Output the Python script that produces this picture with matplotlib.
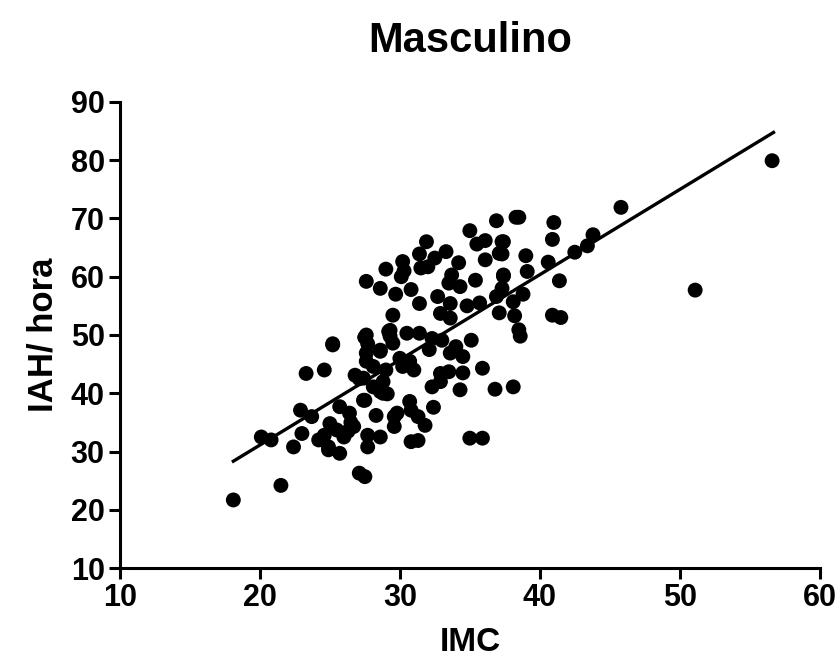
import matplotlib
matplotlib.use("Agg")
import matplotlib.pyplot as plt

plt.rcParams['font.family'] = ['Liberation Sans', 'DejaVu Sans']

title = "Masculino"
x_label = "IMC"
y_label = "IAH/ hora"
x_ticks = [10, 20, 30, 40, 50, 60]
y_ticks = [10, 20, 30, 40, 50, 60, 70, 80, 90]

imc = [
    18.1, 21.5, 20.1, 20.8, 22.4, 23.0, 22.9, 23.7, 23.3, 24.6, 25.2,
    24.2, 24.9, 25.0, 25.7, 26.4, 24.6, 25.5, 26.0, 24.9, 25.7, 26.7,
    26.8, 27.5, 28.8, 28.1, 27.7, 27.1, 27.5, 29.8, 27.6, 28.6, 27.6,
    28.6, 29.7, 30.8, 31.4, 30.1, 29.0, 30.2, 31.5, 32.0, 31.9, 33.3,
    32.5, 31.4, 34.2, 36.1, 37.1, 37.4, 35.0, 36.9, 38.3, 35.5, 36.1,
    37.3, 33.7, 33.5, 34.3, 35.4, 32.7, 33.6, 34.8, 35.7, 36.9, 29.5,
    32.9, 33.6, 27.6, 29.2, 30.5, 31.4, 32.3, 33.0, 35.1, 29.5, 34.0,
    34.5, 33.6, 27.6, 28.6, 28.1, 29.0, 30.2, 31.0, 35.9, 32.9, 33.5,
    34.5, 27.4, 32.3, 32.9, 34.3, 36.8, 38.1, 28.6, 27.4, 30.7, 30.8,
    32.4, 29.6, 29.6, 31.3, 31.8, 27.7, 28.6, 30.8, 31.3, 35.0, 35.9,
    27.7, 27.1, 27.5, 25.2, 27.5, 30.5, 30.7, 28.8, 29.3, 29.1, 28.3,
    38.5, 39.0, 39.1, 37.4, 37.3, 37.4, 37.3, 38.8, 38.1, 38.2, 38.5,
    38.6, 37.1, 41.0, 40.9, 40.6, 41.4, 40.9, 41.5, 42.5, 43.4, 43.8,
    45.8, 51.1, 56.6, 30.3, 29.3, 32.1, 26.3, 26.5, 30.0,
]
iah = [
    21.7, 24.2, 32.5, 32.0, 30.8, 33.1, 37.1, 36.0, 43.4, 44.0, 48.3,
    32.0, 30.8, 34.8, 37.7, 36.6, 32.8, 33.7, 32.5, 30.3, 29.7, 34.3,
    43.1, 38.8, 40.0, 41.1, 30.8, 26.3, 25.7, 36.6, 59.2, 58.0, 45.5,
    47.2, 57.0, 57.8, 55.4, 60.0, 61.3, 62.6, 61.5, 61.7, 66.0, 64.3,
    63.2, 63.9, 62.4, 62.9, 64.0, 60.1, 67.9, 69.6, 70.2, 65.6, 66.2,
    66.0, 60.3, 58.9, 58.3, 59.4, 56.6, 55.4, 55.0, 55.5, 56.6, 53.4,
    53.7, 52.9, 50.0, 50.6, 50.3, 50.3, 49.4, 49.1, 49.1, 48.6, 48.0,
    46.3, 46.9, 46.9, 47.4, 44.6, 44.0, 44.6, 44.0, 44.3, 43.4, 43.7,
    43.5, 42.6, 41.1, 42.0, 40.6, 40.7, 41.1, 40.3, 38.8, 38.6, 37.1,
    37.6, 36.0, 34.3, 36.0, 34.5, 32.8, 32.5, 31.7, 31.9, 32.3, 32.3,
    48.5, 42.5, 49.6, 48.5, 49.6, 45.0, 45.5, 42.0, 49.8, 39.9, 36.2,
    70.2, 63.6, 60.9, 66.0, 63.9, 60.3, 58.0, 57.0, 55.7, 53.3, 50.9,
    49.8, 53.8, 69.3, 66.4, 62.5, 59.3, 53.4, 53.0, 64.2, 65.3, 67.2,
    71.9, 57.7, 79.9, 61.0, 50.8, 47.5, 33.5, 35.0, 46.0,
]

fit_x = [18.0, 56.8]
fit_y = [28.2, 84.9]

fig = plt.figure(figsize=(8.39, 6.70), dpi=100)
ax = fig.add_axes([0.143, 0.152, 0.834, 0.696])

ax.scatter(imc, iah, s=115, color='black', edgecolors='none', zorder=3)
ax.plot(fit_x, fit_y, color='black', linewidth=2.4, zorder=2, solid_capstyle='butt')

ax.set_xlim(10, 60)
ax.set_ylim(10, 90)
ax.set_xticks(x_ticks)
ax.set_yticks(y_ticks)
ax.set_xticklabels([str(t) for t in x_ticks], fontsize=22, fontweight='bold')
ax.set_yticklabels([str(t) for t in y_ticks], fontsize=22, fontweight='bold')
ax.tick_params(direction='out', length=8, width=2.2, pad=3)

for side in ['top', 'right']:
    ax.spines[side].set_visible(False)
for side in ['left', 'bottom']:
    ax.spines[side].set_linewidth(2.2)

ax.set_xlabel(x_label, fontsize=24, fontweight='bold', labelpad=10)
ax.set_ylabel(y_label, fontsize=25, fontweight='bold', labelpad=8)
ax.set_title(title, fontsize=30, fontweight='bold', pad=36)

fig.savefig("out.png", dpi=100, facecolor='white')
